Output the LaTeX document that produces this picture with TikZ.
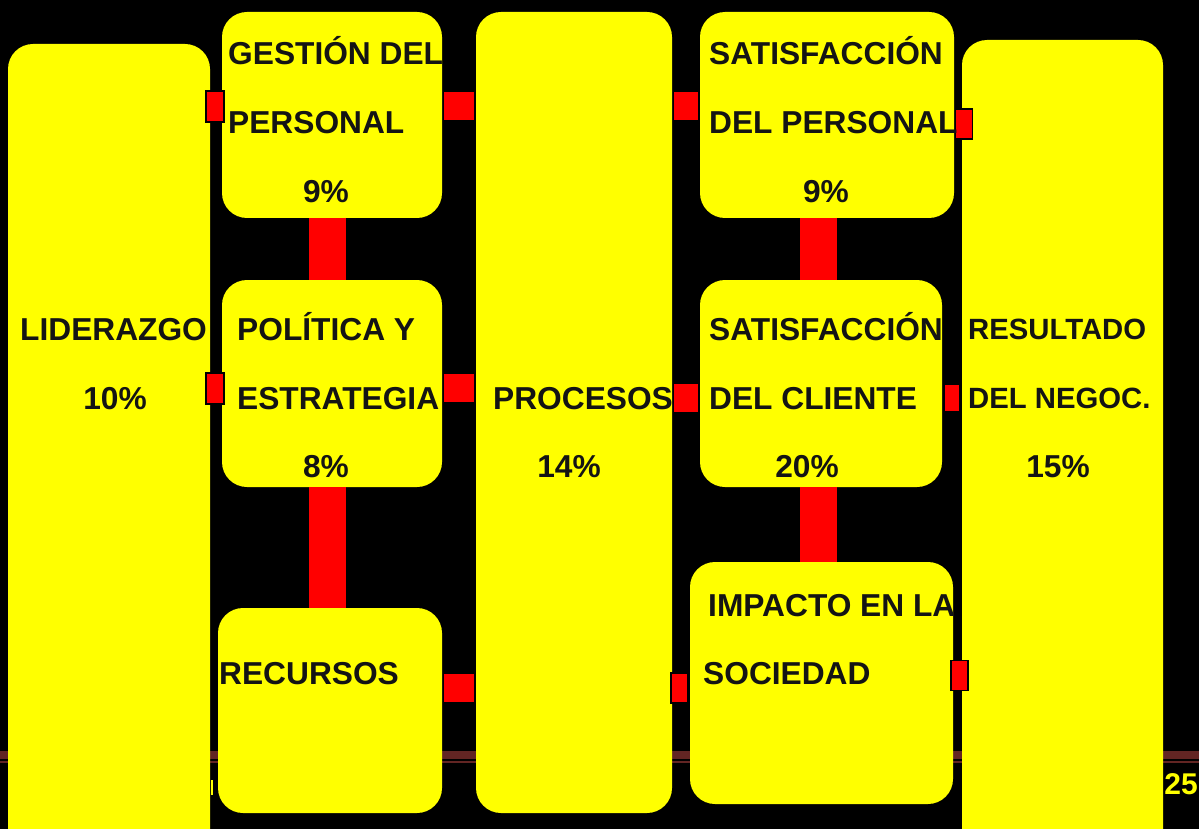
\documentclass[tikz,border=0pt]{standalone}
\usepackage{fontspec}
\setmainfont{Liberation Sans}
\definecolor{boxyellow}{HTML}{FFFF00}
\definecolor{connred}{HTML}{FF0000}
\definecolor{linered}{HTML}{632523}
\definecolor{txt}{HTML}{141414}
\begin{document}
\begin{tikzpicture}[x=1pt,y=-1pt,
  box/.style={fill=boxyellow,draw=none,rounded corners=25pt,inner sep=0pt,outer sep=0pt},
  vbar/.style={draw=connred,line width=37pt},
  hbar/.style={draw=connred,line width=28pt,shorten <=2pt,shorten >=2pt},
  tab/.style={fill=connred,draw=black,line width=1.5pt,inner sep=0pt,outer sep=0pt,minimum width=17pt,minimum height=30pt},
  lbl/.style={text=txt,font=\fontsize{31.7}{31.7}\selectfont\bfseries,inner sep=0pt,text height=22.7pt,text depth=0pt},
  lw/.style={lbl,anchor=west},
  lsm/.style={lw,font=\fontsize{29.3}{29.3}\selectfont\bfseries,text height=21pt}]
\fill[black] (0,0) rectangle (1199,829);
\useasboundingbox (0,0) rectangle (1199,829);
% bottom dark line
\fill[linered] (0,751) rectangle (1199,759);
\fill[linered] (0,761) rectangle (1199,763);
\fill[boxyellow] (211,780) rectangle (213,795);
% boxes
\node[box,minimum width=202pt,minimum height=816pt] (lid) at (109,452) {};
\node[box,minimum width=220pt,minimum height=206pt] (gest) at (332,115) {};
\node[box,minimum width=220pt,minimum height=207pt] (pol) at (332,383.5) {};
\node[box,minimum width=224pt,minimum height=205pt] (rec) at (330,710.5) {};
\node[box,minimum width=196pt,minimum height=801pt] (proc) at (574,412.5) {};
\node[box,minimum width=254pt,minimum height=206pt] (satp) at (827,115) {};
\node[box,minimum width=242pt,minimum height=207pt] (satc) at (821,383.5) {};
\node[box,minimum width=263pt,minimum height=242pt] (imp) at (821.5,683) {};
\node[box,minimum width=201pt,minimum height=820pt] (res) at (1062.5,450) {};
% helper coordinates
\coordinate (xl) at (327.5,0);
\coordinate (xr) at (818,0);
\coordinate (ya) at (0,106);
\coordinate (yb) at (0,388);
\coordinate (yc) at (0,398);
\coordinate (yd) at (0,688);
% vertical connectors
\draw[vbar] (gest.south -| xl) -- (pol.north -| xl);
\draw[vbar] (pol.south -| xl) -- (rec.north -| xl);
\draw[vbar] (satp.south -| xr) -- (satc.north -| xr);
\draw[vbar] (satc.south -| xr) -- (imp.north -| xr);
% horizontal connectors
\draw[hbar] (gest.east |- ya) -- (proc.west |- ya);
\draw[hbar] (pol.east |- yb) -- (proc.west |- yb);
\draw[hbar] (rec.east |- yd) -- (proc.west |- yd);
\draw[hbar] (proc.east |- ya) -- (satp.west |- ya);
\draw[hbar] (proc.east |- yc) -- (satc.west |- yc);
% edge tabs
\node[tab,minimum width=18pt,minimum height=31pt] (t1) at (215,106.5) {};
\node[tab,minimum width=18pt,minimum height=31pt] (t2) at (215,388.5) {};
\node[tab] (t3) at (964,124) {};
\node[tab,minimum width=16pt,minimum height=28pt] (t4) at (952,398) {};
\node[tab] (t5) at (959.5,675.5) {};
\node[tab,minimum width=17pt,minimum height=30pt] (t6) at (679.5,688) {};
% texts
\node[lw] (l1) at (20,329) {LIDERAZGO};
\node[lbl] (l2) at (115,398) {10\%};
\node[lw] (g1) at (228,53) {GESTIÓN DEL};
\node[lw] (g2) at (228,122) {PERSONAL};
\node[lbl] (g3) at (326,191) {9\%};
\node[lw] (p1) at (237,329) {POLÍTICA Y};
\node[lw] (p2) at (237,398) {ESTRATEGIA};
\node[lbl] (p3) at (326,466) {8\%};
\node[lw] (r1) at (219,673) {RECURSOS};
\node[lw] (q1) at (493,398) {PROCESOS};
\node[lbl] (q2) at (569,466) {14\%};
\node[lw] (s1) at (709,53) {SATISFACCIÓN};
\node[lw] (s2) at (709,122) {DEL PERSONAL};
\node[lbl] (s3) at (826,191) {9\%};
\node[lw] (c1) at (709,329) {SATISFACCIÓN};
\node[lw] (c2) at (709,398) {DEL CLIENTE};
\node[lbl] (c3) at (807,466) {20\%};
\node[lw] (i1) at (708,605) {IMPACTO EN LA};
\node[lw] (i2) at (703,673) {SOCIEDAD};
\node[lsm] (e1) at (968,329) {RESULTADO};
\node[lsm] (e2) at (968,398) {DEL NEGOC.};
\node[lbl] (e3) at (1058,466) {15\%};
\node[lbl,text=boxyellow,font=\fontsize{30}{30}\selectfont\bfseries,text height=21pt] (pg) at (1181,783.5) {25};
\end{tikzpicture}
\end{document}
